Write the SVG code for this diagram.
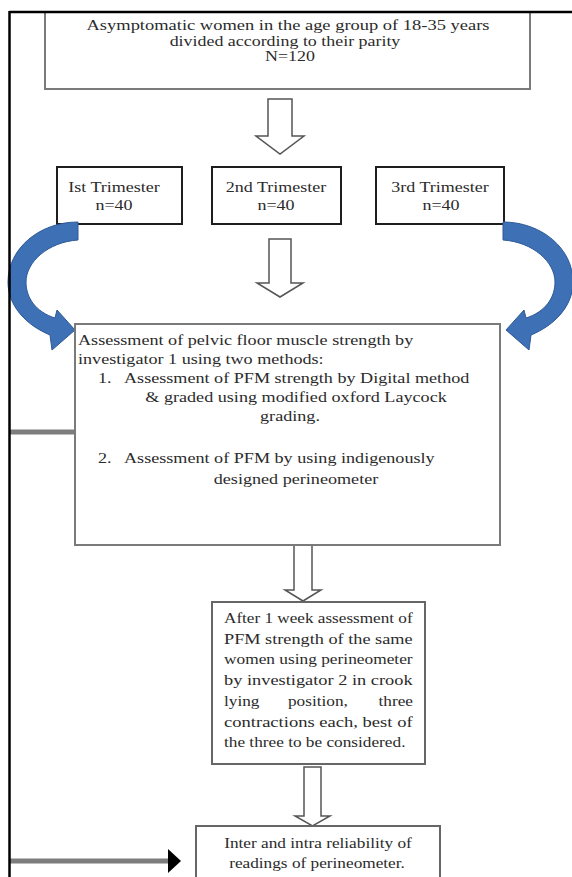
<svg xmlns="http://www.w3.org/2000/svg" width="572" height="877" viewBox="0 0 572 877">
<defs>
<style>
.t{font-family:"Liberation Serif","Times New Roman",serif;font-size:15px;fill:#2b2b2b}
.s{font-size:14px}
.c{text-anchor:middle}
.box{fill:#fff;stroke:#7a7a7a;stroke-width:2}
.tri{fill:#fff;stroke:#1e1e1e;stroke-width:2}
.hollow{fill:#fff;stroke:#555;stroke-width:1.5;stroke-linejoin:miter}
.blue{fill:#3e70b6;stroke:#2d5a96;stroke-width:1}
.gline{stroke:#7d7d7d;stroke-width:5;fill:none}
</style>
<marker id="blackhead" markerUnits="userSpaceOnUse" markerWidth="14" markerHeight="24" refX="0" refY="12" orient="auto">
<path d="M0 0 L13 12 L0 24 Z" fill="#000"/>
</marker>
</defs>
<rect x="0" y="0" width="572" height="877" fill="#fff"/>

<g id="node-top">
<rect class="box" x="45" y="12" width="485" height="77"/>
<text class="t s c" transform="translate(288,30) scale(1.32,1)">Asymptomatic women in the age group of 18-35  years</text>
<text class="t s c" transform="translate(285,45.5) scale(1.28,1)">divided according to their parity</text>
<text class="t s c" transform="translate(290,61) scale(1.28,1)">N=120</text>
</g>

<g id="node-tri1">
<rect class="tri" x="57" y="167" width="125" height="57"/>
<text class="t c" transform="translate(114,192) scale(1.2,1)">Ist Trimester</text>
<text class="t c" transform="translate(114,210) scale(1.2,1)">n=40</text>
</g>
<g id="node-tri2">
<rect class="tri" x="212" y="167" width="129" height="57"/>
<text class="t c" transform="translate(276,192) scale(1.2,1)">2nd Trimester</text>
<text class="t c" transform="translate(276,210) scale(1.2,1)">n=40</text>
</g>
<g id="node-tri3">
<rect class="tri" x="376" y="167" width="128" height="57"/>
<text class="t c" transform="translate(440,192) scale(1.2,1)">3rd Trimester</text>
<text class="t c" transform="translate(441,210) scale(1.2,1)">n=40</text>
</g>

<g id="connectors">
<path class="hollow" d="M268 99 H292 V136 H304 L280 154 L256 136 H268 Z"/>
<path class="hollow" d="M269 239 H291 V283 H303 L280 297 L257 283 H269 Z"/>
<path class="hollow" d="M294 545 H312 V590 H321 L303 601 L285 590 H294 Z"/>
<path class="hollow" d="M304 767 H321 V816 H330 L312.5 826 L295 816 H304 Z"/>
<path class="blue" d="M78 222 C40 222 8 248 8 282 C8 306 26 325 50 335 L52 350 L75 330 L57 310 L55 318 C36 312 26 298 26 282 C26 262 48 242 78 240 Z"/>
<path class="blue" transform="translate(581,0) scale(-1,1)" d="M78 222 C40 222 8 248 8 282 C8 306 26 325 50 335 L52 350 L75 330 L57 310 L55 318 C36 312 26 298 26 282 C26 262 48 242 78 240 Z"/>
<line class="gline" x1="9" y1="432" x2="75" y2="432"/>
<line class="gline" x1="9" y1="861" x2="168" y2="861" marker-end="url(#blackhead)"/>
</g>

<g id="node-assess">
<rect class="box" x="75" y="324" width="425" height="221"/>
<text class="t" transform="translate(78,345) scale(1.21,1)">Assessment of pelvic  floor muscle strength  by</text>
<text class="t" transform="translate(78,364) scale(1.21,1)">investigator  1 using two methods:</text>
<text class="t" transform="translate(98,383) scale(1.21,1)">1.</text>
<text class="t" transform="translate(124,383) scale(1.21,1)">Assessment of PFM strength by Digital  method</text>
<text class="t c" transform="translate(296,402) scale(1.21,1)">&amp; graded using modified oxford Laycock</text>
<text class="t c" transform="translate(290,421) scale(1.21,1)">grading.</text>
<text class="t" transform="translate(98,463) scale(1.21,1)">2.</text>
<text class="t" transform="translate(124,463) scale(1.21,1)">Assessment of PFM by using indigenously</text>
<text class="t c" transform="translate(296,484) scale(1.21,1)">designed perineometer</text>
</g>

<g id="node-week">
<rect class="box" x="212" y="602" width="213" height="162" style="stroke:#666"/>
<text class="t" transform="translate(224,623) scale(1.15,1)" textLength="164" lengthAdjust="spacingAndGlyphs">After 1 week assessment of</text>
<text class="t" transform="translate(224,644) scale(1.15,1)" textLength="164" lengthAdjust="spacingAndGlyphs">PFM strength of the same</text>
<text class="t" transform="translate(224,664) scale(1.15,1)" textLength="164" lengthAdjust="spacingAndGlyphs">women using perineometer</text>
<text class="t" transform="translate(224,685) scale(1.15,1)" textLength="164" lengthAdjust="spacingAndGlyphs">by investigator 2 in crook</text>
<text class="t" transform="translate(224,706) scale(1.15,1)">lying</text>
<text class="t" transform="translate(288,706) scale(1.15,1)">position,</text>
<text class="t" transform="translate(413,706) scale(1.15,1)" style="text-anchor:end">three</text>
<text class="t" transform="translate(224,727) scale(1.15,1)" textLength="164" lengthAdjust="spacingAndGlyphs">contractions each, best of</text>
<text class="t" transform="translate(224,747) scale(1.15,1)">the three to be considered.</text>
</g>

<g id="node-reliability">
<rect class="box" x="196" y="826" width="244" height="60" style="stroke:#666"/>
<text class="t c" transform="translate(318,848) scale(1.15,1)">Inter and intra reliability of</text>
<text class="t c" transform="translate(317,868) scale(1.15,1)">readings of perineometer.</text>
</g>

<g id="frame">
<line x1="9.5" y1="12" x2="572" y2="12" stroke="#000" stroke-width="2.5"/>
<line x1="9.5" y1="11" x2="9.5" y2="877" stroke="#000" stroke-width="2.5"/>
</g>
</svg>
